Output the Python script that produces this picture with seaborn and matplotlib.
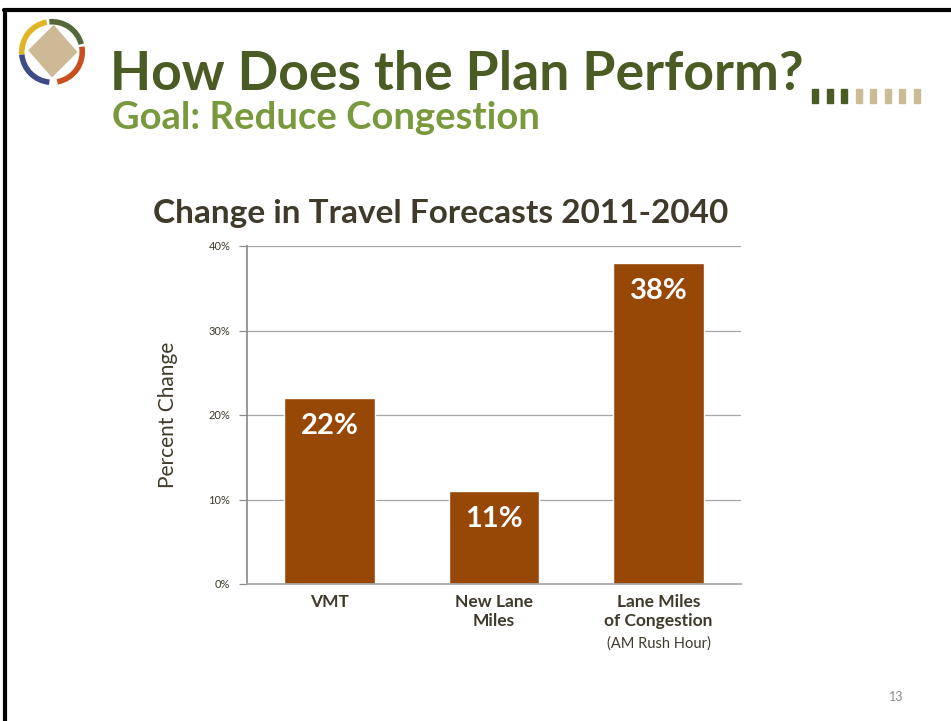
import numpy as np
import pandas as pd
import matplotlib.pyplot as plt
import matplotlib.patches as mpatches
import seaborn as sns

# chart data
categories = ["VMT", "New Lane\nMiles", "Lane Miles\nof Congestion"]
values = [22, 11, 38]
value_labels = ["22%", "11%", "38%"]
y_ticks = [0, 10, 20, 30, 40]
y_tick_labels = ["0%", "10%", "20%", "30%", "40%"]

BAR = "#974706"
DARK = "#403a2b"
OLIVE = "#4b5b24"
LIGHT_OLIVE = "#789a3c"
TAN = "#c9bc96"

sns.set_theme(style="white")
plt.rcParams['font.family'] = ['Lato', 'DejaVu Sans']

fig = plt.figure(figsize=(9.51, 7.21), dpi=100)
fig.patch.set_facecolor("white")

# slide border (top and left)
fig.add_artist(plt.Line2D([4 / 951, 1], [1 - 10 / 721] * 2, color="black", lw=3))
fig.add_artist(plt.Line2D([5 / 951] * 2, [0, 1 - 10 / 721], color="black", lw=3))

# logo
lax = fig.add_axes([16 / 951, 1 - 88 / 721, 72 / 951, 72 / 721])
lax.set_xlim(-1.1, 1.1)
lax.set_ylim(-1.1, 1.1)
lax.set_aspect("equal")
lax.axis("off")
lax.add_patch(mpatches.Polygon([[0.05, 0.8], [0.75, 0.0], [0.0, -0.75], [-0.7, 0.05]],
                               closed=True, color="#cdb995"))
for th1, th2, col in [(100, 185, "#e2b324"), (15, 95, "#53693a"),
                      (-80, 10, "#c8501e"), (185, 265, "#3d4c86")]:
    lax.add_patch(mpatches.Arc((0, 0), 1.85, 1.85, theta1=th1, theta2=th2, color=col, lw=4))

# headings
fig.text(110 / 951, 1 - 74 / 721, "How Does the Plan Perform?", fontsize=38.5,
         fontweight="bold", color=OLIVE, va="center", ha="left")
fig.text(112 / 951, 1 - 118 / 721, "Goal: Reduce Congestion", fontsize=27.5,
         fontweight="bold", color=LIGHT_OLIVE, va="center", ha="left")
for i in range(8):
    col = OLIVE if i < 3 else TAN
    fig.add_artist(mpatches.Rectangle(((812 + i * 14.5) / 951, 1 - 103 / 721),
                                      6 / 951, 14 / 721, color=col))

fig.text(441 / 951, 1 - 214 / 721, "Change in Travel Forecasts 2011-2040",
         fontsize=24, fontweight="bold", color=DARK, ha="center", va="center")

# main chart
ax = fig.add_axes([247 / 951, 1 - 584 / 721, 494 / 951, 338 / 721])
df = pd.DataFrame({"category": categories, "value": values})
sns.barplot(data=df, x="category", y="value", color=BAR, saturation=1,
            width=0.55, ax=ax)
ax.set_ylim(0, 40)
ax.set_yticks(y_ticks)
ax.set_yticklabels(y_tick_labels, fontsize=8, color=DARK)
ax.yaxis.grid(True, color="#a6a6a6", lw=0.9)
ax.set_axisbelow(True)
for s in ["top", "right"]:
    ax.spines[s].set_visible(False)
ax.spines["left"].set_color("#8c8c8c")
ax.spines["bottom"].set_color("#a6a6a6")
ax.tick_params(axis="y", left=True, length=6, width=0.9, color="#8c8c8c", pad=6)
ax.tick_params(axis="x", bottom=False, pad=1)
ax.set_xticks(range(len(categories)))
ax.set_xticklabels(categories, fontsize=12.5, fontweight="bold", color=DARK,
                   linespacing=1.27)
ax.set_xlabel("")
ax.set_ylabel("Percent Change", fontsize=15, color=DARK, labelpad=22)

for i, (v, lab) in enumerate(zip(values, value_labels)):
    ax.annotate(lab, (i, v), xytext=(0, -20), textcoords="offset points",
                ha="center", va="center", fontsize=21, fontweight="bold",
                color="white")

ax.text(2, -0.155, "(AM Rush Hour)", transform=ax.get_xaxis_transform(),
        ha="center", va="top", fontsize=10.5, color=DARK)

fig.text(896 / 951, 1 - 697 / 721, "13", fontsize=9, color="#8c8c8c",
         ha="center", va="center")

fig.savefig("out.png", dpi=100)
